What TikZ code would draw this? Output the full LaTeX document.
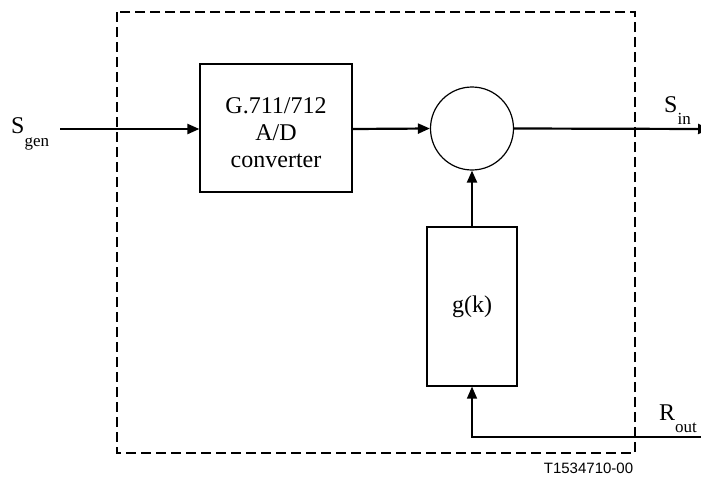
\documentclass[tikz,border=0pt]{standalone}
\usepackage{fontspec}
\setmainfont{Liberation Serif}
\newfontfamily\tagfont{Liberation Sans}
\usetikzlibrary{arrows.meta}

\tikzset{
  sig/.style={line width=2.2pt, -{Triangle[length=12pt,width=10pt]}},
  fbline/.style={line width=1.4pt, -{Triangle[length=12pt,width=10pt]}},
  blockbox/.style={draw, line width=1.2pt, rectangle, inner sep=0pt},
  sumnode/.style={draw, line width=1.2pt, circle, inner sep=0pt, minimum size=83pt},
  frame/.style={line width=2.2pt, dash pattern=on 10pt off 5pt},
  txt/.style={font=\fontsize{24}{27}\selectfont, inner sep=0pt},
  tag/.style={font=\tagfont\fontsize{15}{17}\selectfont, inner sep=0pt}
}

% signal name with a deep subscript
\newcommand{\signame}[3]{#1\raisebox{-#3pt}{\fontsize{17}{18}\selectfont #2}}

\begin{document}
\begin{tikzpicture}[x=1pt,y=-1pt]
  \useasboundingbox (0,0) rectangle (701,477);

  % dashed boundary of the unit
  \draw[frame] (117,12) rectangle (635,453);

  % blocks
  \node[blockbox, minimum width=152pt, minimum height=128pt] (ad) at (276,128) {};
  \node[txt, align=center] (adlabel) at (276,133) {G.711/712\\A/D\\converter};
  \node[sumnode] (sum) at (472,128.5) {};
  \node[blockbox, minimum width=90pt, minimum height=159pt, txt] (gk) at (472,306.5) {g(k)};

  % port labels
  \node[txt, anchor=base west] (sgen) at (11,133.3) {\signame{S}{gen}{13}};
  \node[txt, anchor=base west] (sin) at (664,112) {\signame{S}{in}{12}};
  \node[txt, anchor=base west] (rout) at (659,420) {\signame{R}{out}{12.5}};
  \node[tag, anchor=base] (figtag) at (588.5,473) {T1534710-00};

  % connectors
  \coordinate (gin) at (60,129);
  \coordinate (sout) at (710,129);
  \coordinate (rin) at (702,437);
  \draw[sig] (gin) -- (ad.west |- gin);
  \draw[sig] (ad.east |- gin) -- (sum.west);
  \draw[sig] (sum.east) -- (sout);
  \draw[sig] (gk.north) -- (sum.south);
  \draw[fbline] (rin) -| (gk.south);
\end{tikzpicture}
\end{document}
